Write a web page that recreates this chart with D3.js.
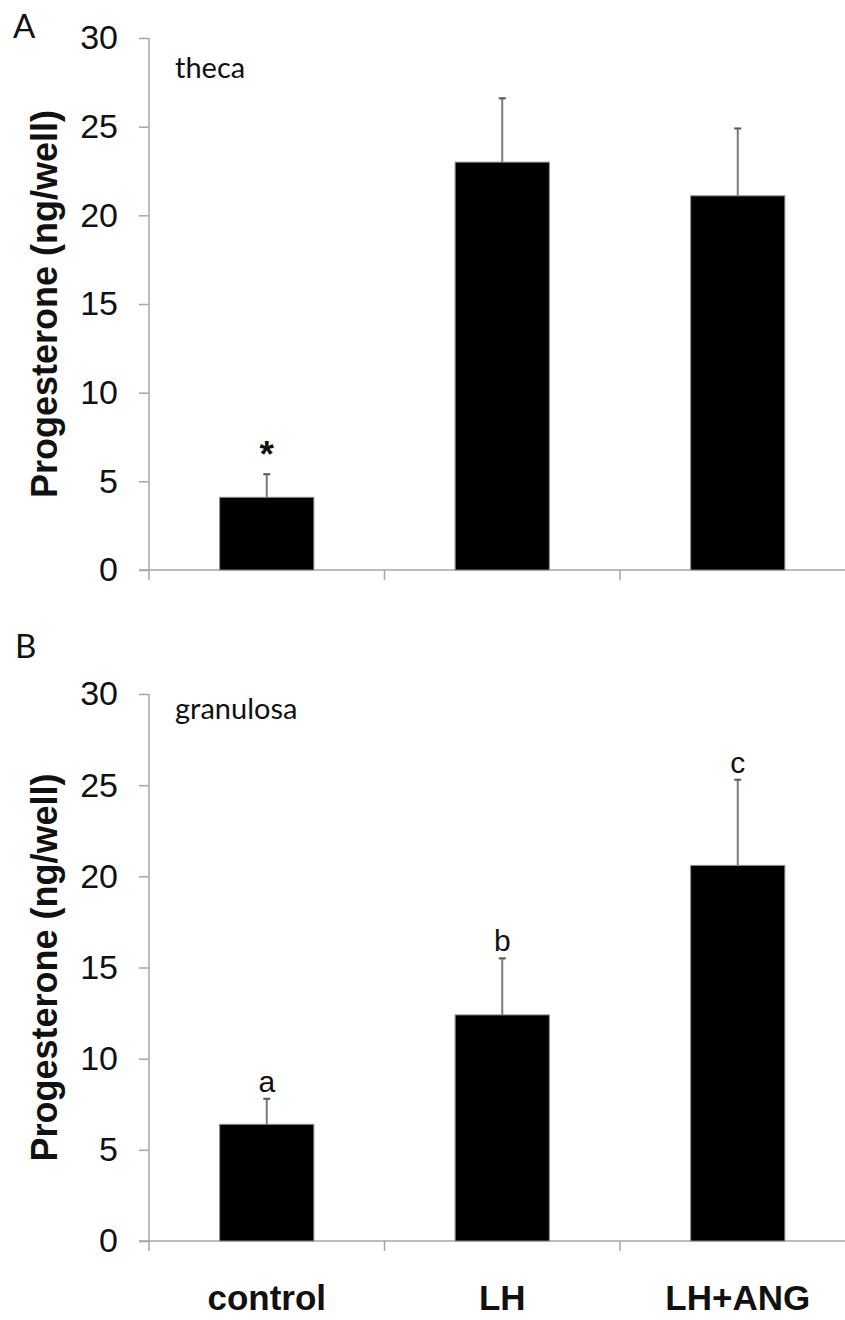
<!DOCTYPE html>
<html>
<head>
<meta charset="utf-8">
<script src="https://cdn.jsdelivr.net/npm/d3@7"></script>
<style>
  html, body { margin: 0; padding: 0; background: #fff; }
  svg { display: block; }
</style>
</head>
<body>
<svg id="chart" width="845" height="1320"></svg>
<script>
// Treatment groups (shared by both panels)
const categories = ["control", "LH", "LH+ANG"];

// Panel A: theca cells, progesterone (ng/well), mean and SEM
const thecaMean = [4.1, 23.0, 21.1];
const thecaSem  = [1.3, 3.6, 3.8];
const thecaMarks = ["*", "", ""];

// Panel B: granulosa cells, progesterone (ng/well), mean and SEM
const granMean = [6.4, 12.4, 20.6];
const granSem  = [1.4, 3.1, 4.7];
const granMarks = ["a", "b", "c"];

const yTicks = [0, 5, 10, 15, 20, 25, 30];
const yTitle = "Progesterone (ng/well)";

const svg = d3.select("#chart");
const axisColor = "#a6a6a6";
const errColor = "#7a7a7a";

const x = d3.scaleBand()
  .domain(categories)
  .range([149, 855.5])
  .paddingInner(0.6)
  .paddingOuter(0.3);

function panel(opts) {
  const y = d3.scaleLinear().domain([0, 30]).range([opts.y0, opts.y1]);
  const g = svg.append("g");

  // panel letter
  g.append("text")
    .attr("x", opts.letterX).attr("y", opts.letterY)
    .attr("font-family", "Lato, 'Open Sans', sans-serif")
    .attr("font-size", 33)
    .attr("fill", "#111")
    .text(opts.letter);

  // y axis
  const yAxis = g.append("g")
    .attr("transform", `translate(${x.range()[0]},0)`)
    .call(d3.axisLeft(y).tickValues(yTicks).tickSize(10).tickPadding(21).tickFormat(d3.format("d")));
  yAxis.select(".domain").attr("stroke", axisColor).attr("stroke-width", 1.5)
    .attr("d", `M0,${y(30)}V${y(0)}`);
  yAxis.selectAll(".tick line").attr("stroke", axisColor).attr("stroke-width", 1.5);
  yAxis.selectAll(".tick text")
    .attr("font-family", "'Liberation Sans', Arial, sans-serif")
    .attr("font-size", 34)
    .attr("fill", "#111");

  // x axis: line running to the right edge, category boundary ticks
  const xg = g.append("g").attr("transform", `translate(0,${y(0)})`);
  xg.append("line")
    .attr("x1", x.range()[0] - 10).attr("x2", 845)
    .attr("stroke", axisColor).attr("stroke-width", 1.5);
  const step = x.step();
  const bounds = d3.range(categories.length + 1).map(i => x.range()[0] + i * step);
  xg.selectAll("line.bound").data(bounds).join("line")
    .attr("class", "bound")
    .attr("x1", d => d).attr("x2", d => d)
    .attr("y1", 0).attr("y2", 10)
    .attr("stroke", axisColor).attr("stroke-width", 1.5);

  // y axis title
  g.append("text")
    .attr("transform", `translate(57,${(y(0) + y(30)) / 2}) rotate(-90)`)
    .attr("text-anchor", "middle")
    .attr("font-family", "'Liberation Sans', Arial, sans-serif")
    .attr("font-weight", "bold")
    .attr("font-size", 36)
    .attr("fill", "#111")
    .text(yTitle);

  // cell type label
  g.append("text")
    .attr("x", 175).attr("y", opts.labelY)
    .attr("font-family", "Lato, 'Open Sans', sans-serif")
    .attr("font-size", 29)
    .attr("fill", "#111")
    .text(opts.label);

  const rows = categories.map((c, i) => ({ c, m: opts.mean[i], s: opts.sem[i], mark: opts.marks[i] }));

  // error bars (upper only)
  const eb = g.append("g").selectAll("g").data(rows).join("g");
  eb.append("line")
    .attr("x1", d => x(d.c) + x.bandwidth() / 2).attr("x2", d => x(d.c) + x.bandwidth() / 2)
    .attr("y1", d => y(d.m)).attr("y2", d => y(d.m + d.s))
    .attr("stroke", errColor).attr("stroke-width", 2);
  eb.append("line")
    .attr("x1", d => x(d.c) + x.bandwidth() / 2 - 3.5).attr("x2", d => x(d.c) + x.bandwidth() / 2 + 3.5)
    .attr("y1", d => y(d.m + d.s)).attr("y2", d => y(d.m + d.s))
    .attr("stroke", "#555").attr("stroke-width", 2);

  // bars
  g.append("g").selectAll("rect").data(rows).join("rect")
    .attr("x", d => x(d.c))
    .attr("width", x.bandwidth())
    .attr("y", d => y(d.m))
    .attr("height", d => y(0) - y(d.m))
    .attr("fill", "#000")
    .attr("stroke", "#8c8c8c")
    .attr("stroke-width", 1);

  // significance marks
  g.append("g").selectAll("text").data(rows.filter(d => d.mark)).join("text")
    .attr("x", d => x(d.c) + x.bandwidth() / 2)
    .attr("y", d => y(d.m + d.s) - (d.mark === "*" ? 7 : 7))
    .attr("text-anchor", "middle")
    .attr("font-family", "'Liberation Sans', Arial, sans-serif")
    .attr("font-weight", d => d.mark === "*" ? "bold" : "normal")
    .attr("font-size", d => d.mark === "*" ? 37 : 30)
    .attr("fill", "#111")
    .text(d => d.mark);

  return y;
}

panel({
  letter: "A", letterX: 13, letterY: 38,
  label: "theca", labelY: 78,
  y0: 570, y1: 38,
  mean: thecaMean, sem: thecaSem, marks: thecaMarks
});

panel({
  letter: "B", letterX: 15, letterY: 658,
  label: "granulosa", labelY: 719,
  y0: 1241, y1: 694,
  mean: granMean, sem: granSem, marks: granMarks
});

// category labels under the lower panel
svg.append("g").selectAll("text").data(categories).join("text")
  .attr("x", d => x(d) + x.bandwidth() / 2)
  .attr("y", 1310)
  .attr("text-anchor", "middle")
  .attr("font-family", "'Liberation Sans', Arial, sans-serif")
  .attr("font-weight", "bold")
  .attr("font-size", 35)
  .attr("fill", "#111")
  .text(d => d);
</script>
</body>
</html>
